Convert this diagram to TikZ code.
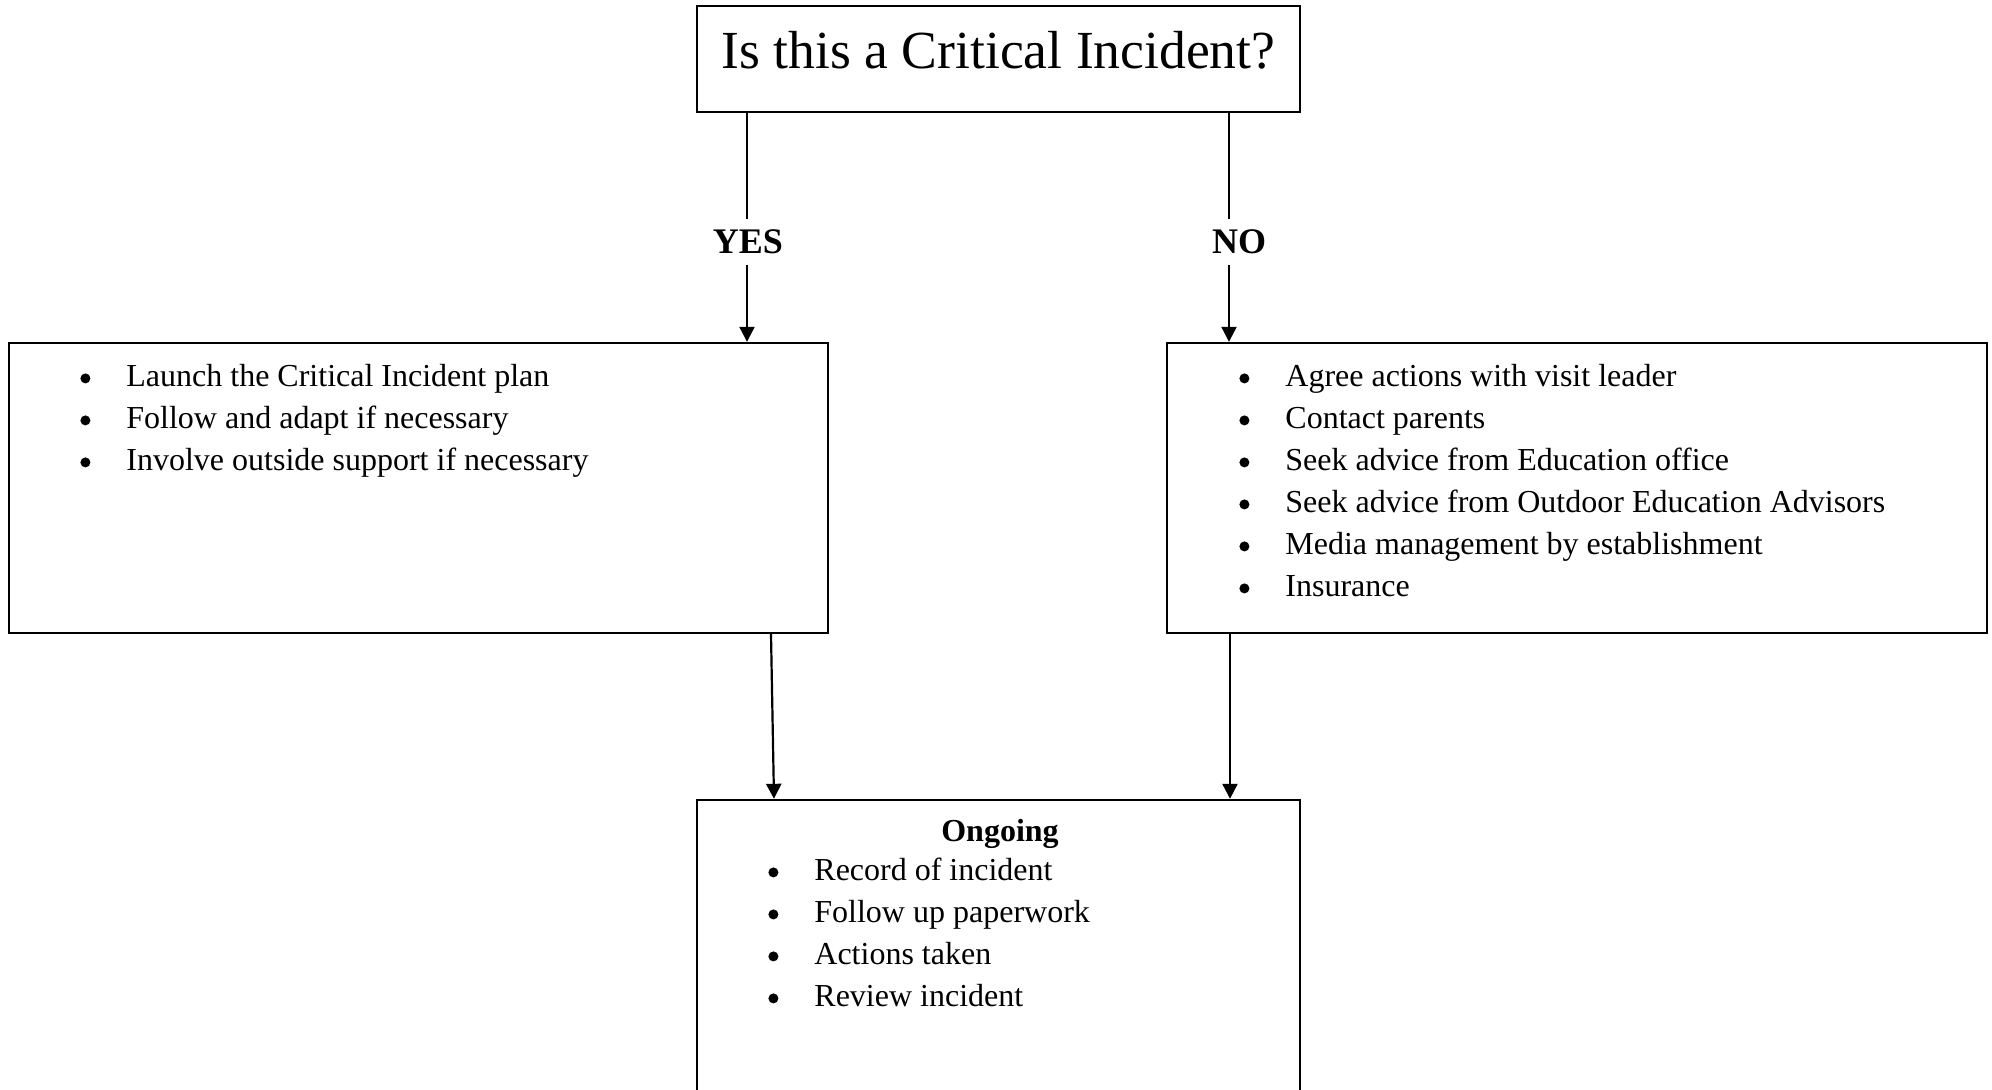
\documentclass[tikz,border=0pt]{standalone}
\usepackage{fontspec}
\setmainfont{Liberation Serif}
\usetikzlibrary{arrows.meta}
\tikzset{
  box/.style={draw, line width=1.2pt, rectangle, inner sep=0pt},
  conn/.style={line width=0.65pt},
  arr/.style={line width=1.1pt, -{Triangle[length=7.5pt,width=7.5pt]}},
  lbl/.style={font=\fontsize{18}{20}\selectfont\bfseries, inner xsep=2pt, inner ysep=5.3pt},
  lst/.style={font=\fontsize{16}{21}\selectfont, align=left, inner sep=0pt, anchor=north west},
}
\newcommand{\bul}{\tikz[baseline=0pt]\fill (2pt,4pt) circle[radius=2.5pt];}
\newcommand{\itm}[1]{\strut\makebox[20.5pt][l]{\hspace*{-2.5pt}\bul}#1}
\begin{document}
\begin{tikzpicture}[x=0.5pt,y=-0.5pt]
\useasboundingbox (0,0) rectangle (1992,1089);
% boxes
\node[box, minimum width=301.5pt, minimum height=53pt] (q) at (998.5,59) {};
\node[font=\fontsize{26.8}{30}\selectfont, anchor=base, inner sep=0pt] (qt) at (998.5,68.5) {Is this a Critical Incident?};
\node[box, minimum width=409.5pt, minimum height=145pt] (yesbox) at (418.5,488) {};
\node[box, minimum width=410pt, minimum height=145pt] (nobox) at (1577,488) {};
\node[box, minimum width=301.5pt, minimum height=146pt] (ongo) at (998.5,946) {};
% labels
\node[lbl] (yes) at (748,242) {YES};
\node[lbl] (no) at (1239,242) {NO};
% lists
\node[lst] (yeslist) at (85,356.6) {\itm{Launch the Critical Incident plan}\\ \itm{Follow and adapt if necessary}\\ \itm{Involve outside support if necessary}};
\node[lst] (nolist) at (1244,356.6) {\itm{Agree actions with visit leader}\\ \itm{Contact parents}\\ \itm{Seek advice from Education office}\\ \itm{Seek advice from Outdoor Education Advisors}\\ \itm{Media management by establishment}\\ \itm{Insurance}};
\node[font=\fontsize{16}{21}\selectfont\bfseries, anchor=base, inner sep=0pt] (ongot) at (1000,841) {Ongoing};
\node[lst] (ongolist) at (773,850.6) {\itm{Record of incident}\\ \itm{Follow up paperwork}\\ \itm{Actions taken}\\ \itm{Review incident}};
% connectors
\draw[conn] (q.south -| 747,0) -- ([xshift=-0.5pt]yes.north);
\draw[arr] ([xshift=-0.5pt]yes.south) -- ([xshift=-0.5pt]yes.south |- yesbox.north);
\draw[conn] (q.south -| 1229,0) -- ([xshift=-5pt]no.north);
\draw[arr] ([xshift=-5pt]no.south) -- ([xshift=-5pt]no.south |- nobox.north);
\draw[arr] ([xshift=176.25pt]yesbox.south) -- ([xshift=-112.25pt]ongo.north);
\draw[arr] ([xshift=-173.5pt]nobox.south) -- ([xshift=115.75pt]ongo.north);
\end{tikzpicture}
\end{document}
